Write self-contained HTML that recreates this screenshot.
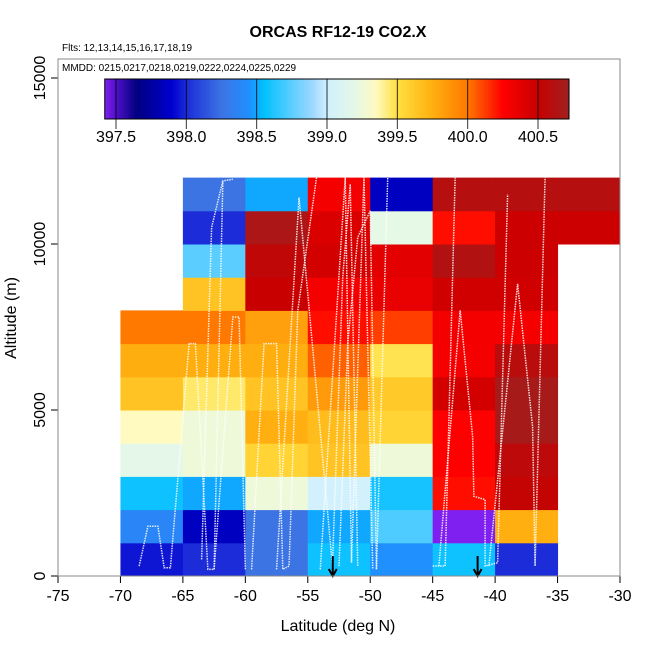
<!DOCTYPE html>
<html><head><meta charset="utf-8"><style>
body{margin:0;background:#fff}
svg{display:block;font-family:"Liberation Sans",sans-serif}
</style></head><body>
<svg id="chart" width="650" height="650" viewBox="0 0 650 650">
<g id="cells"></g>
<g id="tracks"></g>
<g id="axes"></g>
<text x="338" y="37" text-anchor="middle" font-size="16" font-weight="bold">ORCAS RF12-19 CO2.X</text>
<text x="62" y="51" font-size="10">Flts: 12,13,14,15,16,17,18,19</text>
<rect x="58" y="59" width="562" height="517" fill="none" stroke="#888" stroke-width="1"/>
<text x="62" y="71" font-size="10">MMDD: 0215,0217,0218,0219,0222,0224,0225,0229</text>
<g id="cbar"></g>
<text x="338" y="631" text-anchor="middle" font-size="16">Latitude (deg N)</text>
<text transform="translate(16,318) rotate(-90)" text-anchor="middle" font-size="16">Altitude (m)</text>
</svg>
<script>
const NS="http://www.w3.org/2000/svg";
const latEdges=[-70,-65,-60,-55,-50,-45,-40,-35,-30];
const altEdges=[0,1000,2000,3000,4000,5000,6000,7000,8000,9000,10000,11000,12000];
// rows: altitude bins bottom->top, columns: latitude bins
const co2Values=[
[397.95,398.0,398.25,398.58,398.45,398.58,398.0,null],
[398.38,397.85,398.25,398.5,398.72,397.42,399.75,null],
[398.58,398.5,399.25,399.02,398.6,400.22,400.52,null],
[399.18,399.25,399.56,399.65,399.25,400.25,400.56,null],
[399.35,399.25,399.75,399.68,399.56,400.25,400.68,null],
[399.65,399.45,399.65,399.85,399.62,400.45,400.68,null],
[399.76,399.76,399.76,400.05,399.48,400.3,400.58,null],
[400.0,400.0,399.82,400.22,400.12,400.3,400.3,null],
[null,399.65,400.5,400.3,400.35,400.46,400.46,null],
[null,398.75,400.55,400.45,400.38,400.62,400.48,null],
[null,398.0,400.65,400.42,399.2,400.22,400.48,400.48],
[null,398.25,398.5,400.3,397.85,400.6,400.6,400.6]
];
const xTicks=[-75,-70,-65,-60,-55,-50,-45,-40,-35,-30];
const yTicks=[0,5000,10000,15000];
const cbTicks=[397.5,398.0,398.5,399.0,399.5,400.0,400.5];
const arrowLats=[-53,-41.4];
const stops=[[397.42,"#8020f0"],[397.5,"#5010c8"],[397.65,"#000080"],[397.9,"#0000d0"],[398.0,"#1c2cd8"],[398.25,"#3c74e4"],[398.45,"#2090ff"],[398.55,"#00c0ff"],[398.9,"#a0d8ff"],[399.0,"#d0f0ff"],[399.2,"#e6f8e6"],[399.35,"#fffac0"],[399.5,"#ffe040"],[399.75,"#ffb010"],[400.0,"#ff7800"],[400.25,"#ff0000"],[400.5,"#c80000"],[400.72,"#a02020"]];
const X=v=>58+(v+75)*562/45;
const Y=v=>576-v*498/15000;
const CB=v=>116+(v-397.5)*422/3;
function hx(c){return [1,3,5].map(i=>parseInt(c.substr(i,2),16));}
function col(v){
 if(v<=stops[0][0])return stops[0][1];
 for(let i=1;i<stops.length;i++){if(v<=stops[i][0]){const a=hx(stops[i-1][1]),b=hx(stops[i][1]),t=(v-stops[i-1][0])/(stops[i][0]-stops[i-1][0]);return "rgb("+a.map((x,k)=>Math.round(x+(b[k]-x)*t)).join(",")+")";}}
 return stops[stops.length-1][1];
}
function mk(tag,attrs,parent){const e=document.createElementNS(NS,tag);for(const k in attrs)e.setAttribute(k,attrs[k]);parent.appendChild(e);return e;}
const cells=document.getElementById("cells");
co2Values.forEach((row,r)=>row.forEach((v,c)=>{
 if(v===null)return;
 const x0=X(latEdges[c]),x1=X(latEdges[c+1]),y0=Y(altEdges[r+1]),y1=Y(altEdges[r]);
 const e=mk("rect",{x:x0,y:y0,width:x1-x0+0.5,height:y1-y0+0.5,fill:col(v)},cells);
 
 
}));
// decorative flight tracks
const tracks=document.getElementById("tracks");
const trk=[
[[-68.5,300],[-67.8,1500],[-67,1500],[-66.5,250],[-66,250],[-64.5,7000],[-64,7000],[-63,200],[-62.5,200],[-61,7800],[-60.5,7800],[-60,200]],
[[-62.5,200],[-61.8,11900],[-61,11950]],
[[-63.5,500],[-62.7,10500],[-61.8,11900]],
[[-59.5,200],[-58.5,7000],[-57.5,7000],[-57,200],[-56.5,300],[-55.8,8000],[-54.3,12000]],
[[-57.5,200],[-55.7,11400],[-53,200]],
[[-54,200],[-52,12000],[-51.5,400],[-50.5,12000],[-49.8,200]],
[[-52.5,300],[-51.8,7000],[-51,10200],[-50,11000],[-49.5,200]],
[[-53,600],[-52.2,9000],[-51.6,11800],[-51,300]],
[[-49.5,200],[-48.6,12000]],
[[-45,300],[-44,300],[-43.2,12000]],
[[-44.5,300],[-42.8,8000],[-41.8,4200],[-41.7,2400],[-40.8,2300],[-40.8,300],[-39.8,400],[-39,11500]],
[[-40.5,300],[-38.2,8800],[-37,4500],[-36.8,300],[-36,12000]]
];
trk.forEach(t=>{
 const e=mk("polyline",{points:t.map(p=>X(p[0])+","+Y(p[1])).join(" "),fill:"none",stroke:"#fff","stroke-width":1.5,"stroke-dasharray":"1.5,1","opacity":0.85},tracks);
 
 
});
const axes=document.getElementById("axes");
mk("line",{x1:X(-75),x2:X(-30),y1:576,y2:576,stroke:"#000"},axes);
mk("line",{x1:58,x2:58,y1:Y(0),y2:Y(15000),stroke:"#000"},axes);
xTicks.forEach(v=>{
 mk("line",{x1:X(v),x2:X(v),y1:576,y2:583,stroke:"#000"},axes);
 const t=mk("text",{x:X(v),y:601,"text-anchor":"middle","font-size":16},axes);t.textContent=v;
 
 
});
yTicks.forEach(v=>{
 mk("line",{x1:51,x2:58,y1:Y(v),y2:Y(v),stroke:"#000"},axes);
 const t=mk("text",{transform:"translate(45,"+Y(v)+") rotate(-90)","text-anchor":"middle","font-size":16},axes);t.textContent=v;
 
 
});
arrowLats.forEach(v=>{
 const g=mk("g",{},axes);
 
 
 mk("line",{x1:X(v),x2:X(v),y1:556,y2:575,stroke:"#000","stroke-width":2},g);
 mk("polyline",{points:(X(v)-4)+",569 "+X(v)+",576 "+(X(v)+4)+",569",fill:"none",stroke:"#000","stroke-width":2},g);
});
// colorbar
const cb=document.getElementById("cbar");
const lo=397.42,hi=400.72,n=200;
for(let i=0;i<n;i++){const v=lo+(hi-lo)*i/n;mk("rect",{x:CB(v),y:79,width:(CB(hi)-CB(lo))/n+0.6,height:40,fill:col(v+(hi-lo)/n/2)},cb);}
cbTicks.forEach(v=>{
 mk("line",{x1:CB(v),x2:CB(v),y1:79,y2:129,stroke:"#000","stroke-opacity":0.8},cb);
 const t=mk("text",{x:CB(v),y:142,"text-anchor":"middle","font-size":16},cb);t.textContent=v.toFixed(1);
 
 
});
mk("rect",{x:CB(lo),y:79,width:CB(hi)-CB(lo),height:40,fill:"none",stroke:"#000"},cb);
</script>
</body></html>
